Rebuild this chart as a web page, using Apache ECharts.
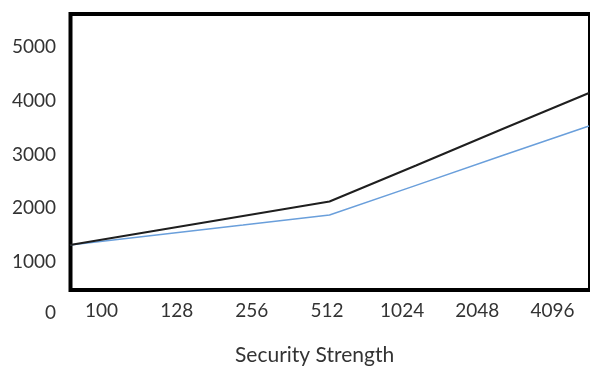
<!DOCTYPE html>
<html>
<head>
<meta charset="utf-8">
<script src="https://cdn.jsdelivr.net/npm/echarts@6/dist/echarts.min.js"></script>
<style>
html,body{margin:0;padding:0;background:#fff;}
#chart{width:590px;height:367px;}
</style>
</head>
<body>
<div id="chart"></div>
<script>
var categories = ['100', '128', '256', '512', '1024', '2048', '4096'];
var seriesBlack = [1316, 1584, 1854, 2126, 2795, 3474, 4144];
var seriesBlue = [1316, 1502, 1687, 1874, 2425, 2980, 3530];
var yTicks = [0, 1000, 2000, 3000, 4000, 5000];
var xAxisTitle = 'Security Strength';

var FONT = 'Lato';
var TXT = '#333333';

var chart = echarts.init(document.getElementById('chart'), null, {renderer: 'canvas'});
chart.setOption({
  animation: false,
  backgroundColor: '#fff',
  title: {
    text: xAxisTitle, left: 235, top: 345, padding: 0,
    textStyle: {fontSize: 21, fontWeight: 'normal', color: TXT, fontFamily: FONT}
  },
  grid: [
    {left: 70, right: 1, top: 14, bottom: 51.25},
    {left: 70.5, right: -0.5, top: 14, bottom: 77, show: true, borderColor: '#000', borderWidth: 4, backgroundColor: 'transparent'},
    {left: 64, right: -5, top: 14, bottom: 77}
  ],
  xAxis: [
    {gridIndex: 0, type: 'category', data: categories, boundaryGap: false, show: false},
    {gridIndex: 1, type: 'value', show: false},
    {gridIndex: 2, type: 'category', data: categories, boundaryGap: true,
     axisLine: {show: false}, axisTick: {show: false}, splitLine: {show: false},
     axisLabel: {fontSize: 19, color: TXT, fontFamily: FONT, margin: 11, interval: 0}}
  ],
  yAxis: [
    {gridIndex: 0, type: 'value', min: 0, max: 5614, interval: 1000,
     axisLine: {show: false}, axisTick: {show: false}, splitLine: {show: false},
     axisLabel: {
       fontSize: 19, color: TXT, fontFamily: FONT, margin: 14,
       formatter: function (v) {
         if (yTicks.indexOf(v) < 0) return '';
         if (v === 0) return '{z|0}';
         return String(v);
       },
       rich: {z: {fontSize: 19, color: TXT, fontFamily: FONT, padding: [0, 0, 6, 0]}}
     }},
    {gridIndex: 1, type: 'value', show: false},
    {gridIndex: 2, type: 'value', show: false}
  ],
  series: [
    {type: 'line', xAxisIndex: 0, yAxisIndex: 0, data: seriesBlue, symbol: 'none',
     lineStyle: {color: '#6A9FDB', width: 1.5}, z: 3},
    {type: 'line', xAxisIndex: 0, yAxisIndex: 0, data: seriesBlack, symbol: 'none',
     lineStyle: {color: '#1f1f1f', width: 2}, z: 4}
  ]
});
</script>
</body>
</html>
